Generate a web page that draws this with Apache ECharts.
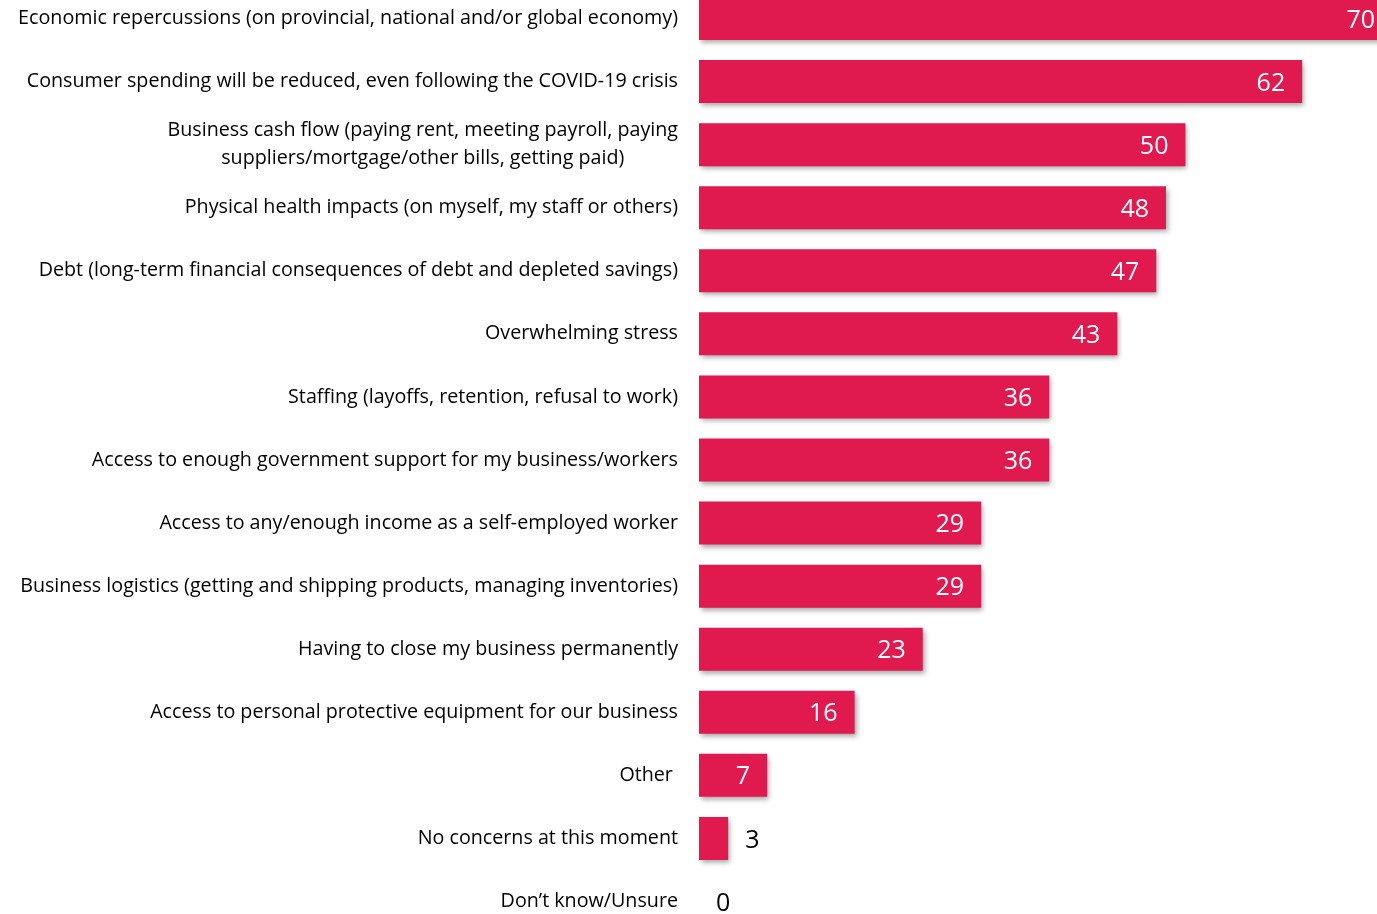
<!DOCTYPE html>
<html>
<head>
<meta charset="utf-8">
<script src="https://cdn.jsdelivr.net/npm/echarts@6/dist/echarts.min.js"></script>
<style>
html,body{margin:0;padding:0;background:#fff;overflow:hidden;width:1377px;height:914px;}
#wrap{position:relative;width:1377px;height:914px;overflow:hidden;}
#chart{position:absolute;left:0;top:-13px;width:1380px;height:946px;}
</style>
</head>
<body>
<div id="wrap"><div id="chart"></div></div>
<script>
var categories = [
  "Economic repercussions (on provincial, national and/or global economy)",
  "Consumer spending will be reduced, even following the COVID-19 crisis",
  "Business cash flow (paying rent, meeting payroll, paying\nsuppliers/mortgage/other bills, getting paid)",
  "Physical health impacts (on myself, my staff or others)",
  "Debt (long-term financial consequences of debt and depleted savings)",
  "Overwhelming stress",
  "Staffing (layoffs, retention, refusal to work)",
  "Access to enough government support for my business/workers",
  "Access to any/enough income as a self-employed worker",
  "Business logistics (getting and shipping products, managing inventories)",
  "Having to close my business permanently",
  "Access to personal protective equipment for our business",
  "Other ",
  "No concerns at this moment",
  "Don\u2019t know/Unsure"
];
var values = [70, 62, 50, 48, 47, 43, 36, 36, 29, 29, 23, 16, 7, 3, 0];

var FONT = "'Open Sans', 'Noto Sans', sans-serif";
var barColor = "#E0194E";

var seriesData = values.map(function (v, i) {
  var item = { value: v };
  if (v < 5) {
    item.label = { position: "right", color: "#000", distance: 17 };
  } else if (i === 0) {
    item.label = { distance: 5 };
  }
  return item;
});

var chart = echarts.init(document.getElementById("chart"), null, { renderer: "canvas" });
chart.setOption({
  animation: false,
  backgroundColor: "#fff",
  grid: { left: 699, right: 0, top: 0, bottom: 0, containLabel: false },
  xAxis: {
    type: "value", min: 0, max: 70,
    show: false
  },
  yAxis: {
    type: "category",
    inverse: true,
    data: categories,
    axisLine: { show: false },
    axisTick: { show: false },
    splitLine: { show: false },
    axisLabel: {
      margin: 21,
      color: "#000",
      fontFamily: FONT,
      fontSize: 19.7,
      align: "right",
      lineHeight: 28,
      formatter: function (v) {
        if (v.indexOf("\n") >= 0) {
          return v.split("\n").map(function (s) { return "{c|" + s + "}"; }).join("\n");
        }
        return v;
      },
      rich: {
        c: { align: "center", fontFamily: FONT, fontSize: 19.7, color: "#000", lineHeight: 28 }
      }
    }
  },
  series: [{
    type: "bar",
    data: seriesData,
    barWidth: 43,
    itemStyle: {
      color: barColor,
      shadowColor: "rgba(0,0,0,0.35)",
      shadowBlur: 5,
      shadowOffsetX: 2,
      shadowOffsetY: 3
    },
    label: {
      show: true,
      position: "insideRight",
      distance: 17,
      offset: [0, 2],
      color: "#fff",
      fontFamily: FONT,
      fontSize: 25
    }
  }]
});
</script>
</body>
</html>
